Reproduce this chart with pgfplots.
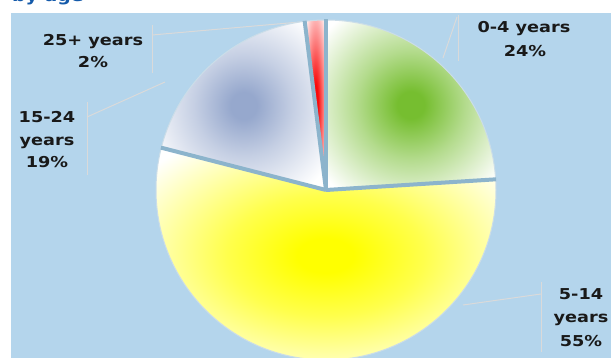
\documentclass[border=0pt]{standalone}
\usepackage{pgfplots}
\pgfplotsset{compat=1.18}
\usepackage{pgfplotstable}
\usepackage{fontspec}
\setmainfont{DejaVu Sans}
\newfontfamily\lab{DejaVu Sans}[FakeStretch=1.18]
\definecolor{bgblue}{RGB}{180,213,236}
\definecolor{sep}{RGB}{140,180,204}
\definecolor{lead}{RGB}{218,218,218}
\definecolor{titleblue}{RGB}{20,90,170}
\definecolor{txt}{RGB}{25,25,25}
\definecolor{cgreen}{RGB}{118,190,48}
\definecolor{cyellow}{RGB}{255,255,0}
\definecolor{cblue}{RGB}{150,168,205}
\definecolor{cred}{RGB}{250,10,10}
\pgfdeclareradialshading{shgreen}{\pgfpointorigin}{color(0bp)=(cgreen); color(4bp)=(cgreen); color(16bp)=(cgreen!55!white); color(33bp)=(white); color(50bp)=(white)}
\pgfdeclareradialshading{shyellow}{\pgfpointorigin}{color(0bp)=(cyellow); color(4bp)=(cyellow); color(14bp)=(cyellow!70!white); color(32bp)=(white); color(50bp)=(white)}
\pgfdeclareradialshading{shblue}{\pgfpointorigin}{color(0bp)=(cblue); color(4bp)=(cblue); color(15bp)=(cblue!55!white); color(31bp)=(white); color(50bp)=(white)}
\pgfdeclareradialshading{shred}{\pgfpointorigin}{color(0bp)=(cred); color(6bp)=(cred); color(18bp)=(cred!55!white); color(34bp)=(white); color(50bp)=(white)}
\pgfplotstableread{
group value
0-4 24
5-14 55
15-24 19
25+ 2
}\agedata
\begin{document}
\begin{tikzpicture}
\pgfplotstablegetelem{0}{value}\of\agedata \pgfmathsetmacro\aA{90}\pgfmathsetmacro\aB{\aA-3.6*\pgfplotsretval}
\pgfplotstablegetelem{1}{value}\of\agedata \pgfmathsetmacro\aC{\aB-3.6*\pgfplotsretval}
\pgfplotstablegetelem{2}{value}\of\agedata \pgfmathsetmacro\aD{\aC-3.6*\pgfplotsretval}
\pgfplotstablegetelem{3}{value}\of\agedata \pgfmathsetmacro\aE{\aD-3.6*\pgfplotsretval}
\useasboundingbox (0,0) rectangle (611pt,358pt);
\clip (0,0) rectangle (611pt,358pt);
\begin{axis}[scale only axis, width=611pt, height=358pt,
  xmin=0, xmax=611, ymin=0, ymax=358, y dir=reverse,
  hide axis, clip=false]
\fill[white] (axis cs:0,0) rectangle (axis cs:611,358);
\fill[bgblue] (axis cs:11,13) rectangle (axis cs:611,358);
\node[anchor=base west, inner sep=0, text=titleblue, font=\lab\bfseries\fontsize{16}{16}\selectfont] at (axis cs:12,1.5) {by age};
% leader lines
\draw[lead, line width=1pt] (axis cs:458,15) -- (axis cs:458,61);
\draw[lead, line width=1pt] (axis cs:457,17) -- (axis cs:443,58);
\draw[lead, line width=1pt] (axis cs:152,25) -- (axis cs:152,73);
\draw[lead, line width=1pt] (axis cs:152,35) -- (axis cs:300,22);
\draw[lead, line width=1pt] (axis cs:87,102) -- (axis cs:87,175);
\draw[lead, line width=1pt] (axis cs:87,117) -- (axis cs:165,82);
\draw[lead, line width=1pt] (axis cs:541,282) -- (axis cs:541,352);
\draw[lead, line width=1pt] (axis cs:541,294) -- (axis cs:463,305);
% slices
\shade[shading=shgreen] (axis cs:326,190) -- ++(\aA:170pt) arc[start angle=\aA, end angle=\aB, radius=170pt] -- cycle;
\shade[shading=shyellow] (axis cs:326,190) -- ++(\aB:170pt) arc[start angle=\aB, end angle=\aC, radius=170pt] -- cycle;
\shade[shading=shblue] (axis cs:326,190) -- ++(\aC:170pt) arc[start angle=\aC, end angle=\aD, radius=170pt] -- cycle;
\shade[shading=shred] (axis cs:326,190) -- ++(\aD:170pt) arc[start angle=\aD, end angle=\aE, radius=170pt] -- cycle;
\draw[sep!45!white, line width=1pt] (axis cs:326,190) circle[radius=170pt];
\draw[sep, line width=4pt] (axis cs:326,190) -- ++(\aA:170.5pt);
\draw[sep, line width=4pt] (axis cs:326,190) -- ++(\aB:170.5pt);
\draw[sep, line width=4pt] (axis cs:326,190) -- ++(\aC:170.5pt);
\draw[sep, line width=4pt] (axis cs:326,190) -- ++(\aD:170.5pt);
% labels
\begin{scope}[every node/.style={anchor=base, inner sep=0, text=txt, font=\lab\bfseries\fontsize{15}{18}\selectfont}]
\node at (axis cs:524,33) {0-4 years};
\node at (axis cs:525,57) {24\%};
\node at (axis cs:93,46) {25+ years};
\node at (axis cs:93,68) {2\%};
\node at (axis cs:47,123) {15-24};
\node at (axis cs:47,146) {years};
\node at (axis cs:47,168) {19\%};
\node at (axis cs:581,300) {5-14};
\node at (axis cs:581,323) {years};
\node at (axis cs:581,347) {55\%};
\end{scope}
\end{axis}
\end{tikzpicture}
\end{document}
